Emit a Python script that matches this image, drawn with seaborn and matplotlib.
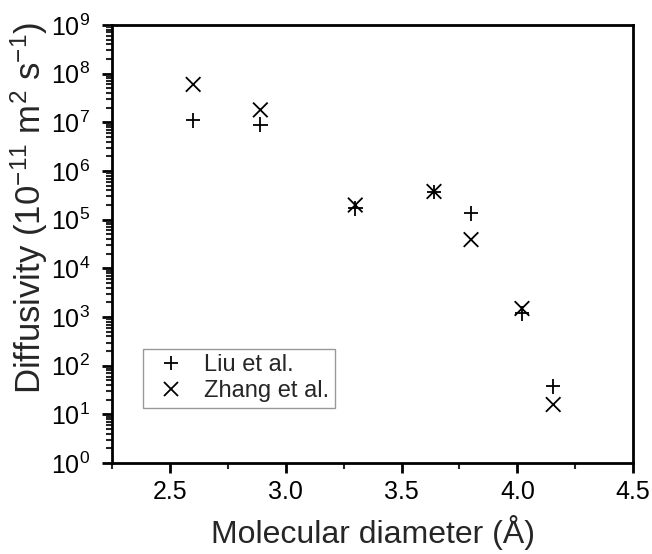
import numpy as np
import pandas as pd
import matplotlib
matplotlib.use("Agg")
import matplotlib.pyplot as plt
import matplotlib.ticker as mticker
import seaborn as sns

# Data
diameters = [2.60, 2.89, 3.30, 3.64, 3.80, 4.02, 4.155]
liu_values = [1.1e7, 9.0e6, 1.7e5, 3.7e5, 1.35e5, 1.2e3, 38]
zhang_values = [6.0e7, 1.8e7, 2.0e5, 3.8e5, 3.9e4, 1.5e3, 16]
series_names = ["Liu et al.", "Zhang et al."]
x_ticks = [2.5, 3.0, 3.5, 4.0, 4.5]

df = pd.DataFrame({
    "d": diameters * 2,
    "D": liu_values + zhang_values,
    "src": [series_names[0]] * len(diameters) + [series_names[1]] * len(diameters),
})

sns.set_theme(style="ticks")
plt.rcParams["font.family"] = ["Liberation Sans", "DejaVu Sans"]
plt.rcParams["mathtext.fontset"] = "custom"
plt.rcParams["mathtext.rm"] = "Liberation Sans"
plt.rcParams["mathtext.it"] = "Liberation Sans:italic"
plt.rcParams["mathtext.default"] = "regular"

fig = plt.figure(figsize=(6.52, 5.54), dpi=100)
ax = fig.add_axes([0.172, 0.164, 0.799, 0.791])

sns.scatterplot(data=df, x="d", y="D", style="src",
                markers={series_names[0]: "+", series_names[1]: "x"},
                color="black", s=110, linewidth=1.3, ax=ax, legend=True)

ax.set_yscale("log")
ax.set_xlim(2.25, 4.5)
ax.set_ylim(1, 1e9)
ax.set_xticks(x_ticks)
ax.set_xticklabels([f"{t:.1f}" for t in x_ticks])
ax.xaxis.set_minor_locator(mticker.MultipleLocator(0.25))
ax.yaxis.set_major_locator(mticker.LogLocator(base=10, numticks=20))
ax.yaxis.set_minor_locator(mticker.LogLocator(base=10, subs=np.arange(2, 10), numticks=20))
ax.yaxis.set_minor_formatter(mticker.NullFormatter())
ax.yaxis.set_major_formatter(mticker.FuncFormatter(lambda v, p: "10$^{%d}$" % int(round(np.log10(v)))))

for s in ax.spines.values():
    s.set_linewidth(2.0)
    s.set_color("black")
    s.set_visible(True)

ax.tick_params(axis="both", which="major", direction="out", length=7, width=2,
               labelsize=18, colors="black", pad=5)
ax.tick_params(axis="y", which="major", pad=9)
ax.tick_params(axis="both", which="minor", direction="out", length=4, width=1.5)
ax.tick_params(top=False, right=False, which="both")

ax.set_xlabel("Molecular diameter (Å)", fontsize=23, labelpad=8)
ax.set_ylabel("Diffusivity (10$^{-11}$ m$^{2}$ s$^{-1}$)", fontsize=25)
ax.yaxis.set_label_coords(-0.119, 0.583)

leg = ax.legend(loc="lower left", bbox_to_anchor=(0.06, 0.126), fontsize=17,
                frameon=True, fancybox=False, edgecolor="#808080",
                handletextpad=0.5, borderpad=0.25, labelspacing=0.15,
                handlelength=1.8, borderaxespad=0)
leg.get_frame().set_linewidth(1.0)

fig.savefig("out.png", dpi=100)
